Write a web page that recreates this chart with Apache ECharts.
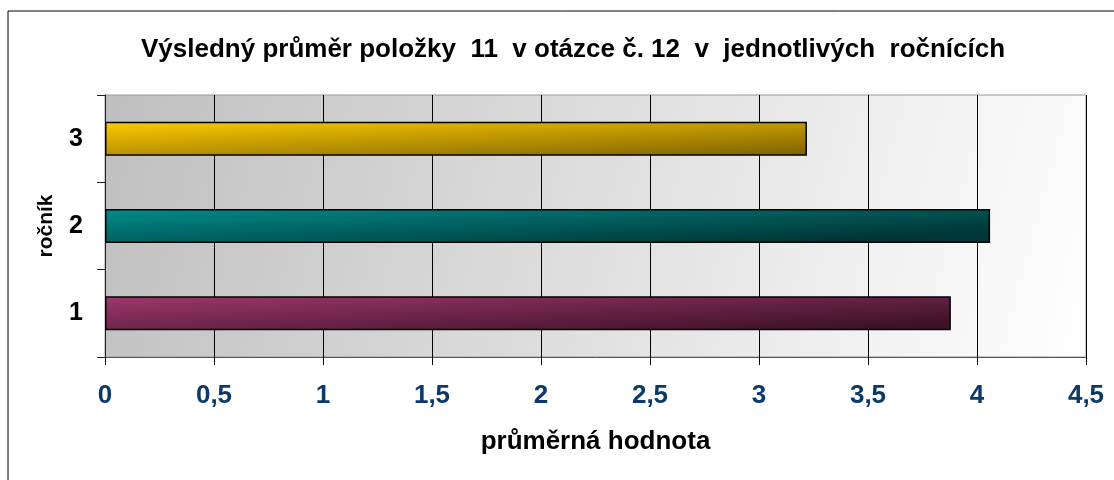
<!DOCTYPE html>
<html>
<head>
<meta charset="UTF-8">
<title>Výsledný průměr</title>
<script src="https://cdn.jsdelivr.net/npm/echarts@6/dist/echarts.min.js"></script>
<style>
  html, body { margin: 0; padding: 0; background: #fff; }
  #chart { width: 1114px; height: 480px; }
</style>
</head>
<body>
<div id="chart"></div>
<script>
// data
var rocnik = ['1', '2', '3'];
var prumer = [3.88, 4.06, 3.22];
var xTicks = [0, 0.5, 1, 1.5, 2, 2.5, 3, 3.5, 4, 4.5];
// colours: [top-left, bottom-right] for each bar
var barColors = [
    ['#9e386c', '#3e1228'],
    ['#008c8a', '#003636'],
    ['#ffcc00', '#725800']
];

var myChart = echarts.init(document.getElementById('chart'));

// mostly vertical shading with some darkening to the right
function grad(c) {
    return new echarts.graphic.LinearGradient(0, 0, 0.004, 2, [
        { offset: 0, color: c[0] },
        { offset: 1, color: c[1] }
    ]);
}

var option = {
    backgroundColor: '#fff',
    animation: false,
    title: {
        text: 'Výsledný průměr položky  11  v otázce č. 12  v  jednotlivých  ročnících',
        left: 136,
        top: 32,
        textStyle: { fontFamily: 'Arial', fontSize: 26, fontWeight: 'bold', color: '#000' }
    },
    // outer frame, only left and top edges visible
    graphic: [{
        type: 'rect',
        shape: { x: 8, y: 11, width: 1200, height: 600 },
        style: { fill: null, stroke: '#000', lineWidth: 1 },
        silent: true
    }],
    grid: {
        show: true,
        left: 105,
        right: 28,
        top: 95,
        bottom: 123,
        borderColor: '#999',
        borderWidth: 1,
        backgroundColor: new echarts.graphic.LinearGradient(0, 0, 1, 1, [
            { offset: 0, color: '#bfbfbf' },
            { offset: 1, color: '#ffffff' }
        ])
    },
    xAxis: {
        type: 'value',
        min: 0,
        max: 4.5,
        interval: 0.5,
        name: 'průměrná hodnota',
        nameLocation: 'middle',
        nameGap: 72,
        nameTextStyle: { fontFamily: 'Arial', fontSize: 26, fontWeight: 'bold', color: '#000' },
        axisLine: { show: true, lineStyle: { color: '#555', width: 1 } },
        axisTick: { show: true, length: 8, lineStyle: { color: '#000' } },
        axisLabel: {
            margin: 26,
            fontFamily: 'Arial', fontSize: 26, fontWeight: 'bold', color: '#0b3a6a',
            formatter: function (v) {
                return xTicks.indexOf(v) >= 0 ? String(v).replace('.', ',') : '';
            }
        },
        splitLine: { show: true, lineStyle: { color: '#000', width: 1 } }
    },
    yAxis: {
        type: 'category',
        data: rocnik,
        name: 'ročník',
        nameLocation: 'middle',
        nameGap: 48,
        nameRotate: 90,
        nameTextStyle: { fontFamily: 'Arial', fontSize: 21, fontWeight: 'bold', color: '#000' },
        axisLine: { show: true, lineStyle: { color: '#222', width: 1 } },
        axisTick: { show: true, length: 8, lineStyle: { color: '#222' } },
        axisLabel: { margin: 22, fontFamily: 'Arial', fontSize: 25, fontWeight: 'bold', color: '#000' },
        splitLine: { show: false }
    },
    series: [{
        type: 'bar',
        barWidth: '39%',
        data: prumer.map(function (v, i) {
            return {
                value: v,
                itemStyle: { color: grad(barColors[i]), borderColor: '#000', borderWidth: 1.5 }
            };
        })
    }]
};

myChart.setOption(option);
</script>
</body>
</html>
